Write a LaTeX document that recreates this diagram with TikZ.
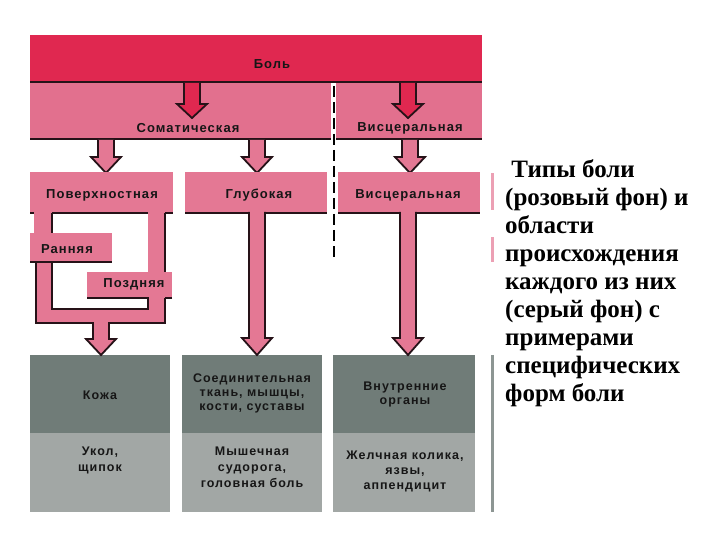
\documentclass[tikz,border=0pt]{standalone}
\usepackage{fontspec}
\setmainfont{Liberation Serif}
\newfontfamily\lblfont[LetterSpace=8]{Liberation Sans}
\definecolor{redband}{RGB}{224,40,80}
\definecolor{pinkband}{RGB}{226,112,142}
\definecolor{pinkbox}{RGB}{228,120,148}
\definecolor{darkline}{RGB}{38,18,24}
\definecolor{graytop}{RGB}{112,124,120}
\definecolor{graybot}{RGB}{162,167,165}
\definecolor{txtdark}{RGB}{22,22,22}
\newcommand\blkarrow[5]{%
  \fill[#1] (#2-8,#3) -- (#2-8,#4) -- (#2-15,#4) -- (#2,#5) -- (#2+15,#4) -- (#2+8,#4) -- (#2+8,#3) -- cycle;
  \draw[darkline, line width=1.8pt, line join=miter] (#2-8,#3) -- (#2-8,#4) -- (#2-15,#4) -- (#2,#5) -- (#2+15,#4) -- (#2+8,#4) -- (#2+8,#3);
}
\begin{document}
\begin{tikzpicture}[x=1pt,y=-1pt,
  lbl/.style={font=\lblfont\bfseries\fontsize{13}{15}\selectfont, text=txtdark, inner sep=0pt},
  glbl/.style={font=\lblfont\bfseries\fontsize{12.5}{14}\selectfont, text=txtdark, align=center, inner sep=0pt},
  dk/.style={draw=darkline, line width=2pt},
]
\useasboundingbox[fill=white] (0,0) rectangle (720,540);

% ---- top bands
\fill[pinkband] (30,82) rectangle (482,140);
\fill[redband] (30,35) rectangle (482,82);
\draw[dk] (30,82) -- (482,82);
\draw[dk] (30,139) -- (482,139);
\blkarrow{redband}{192}{83}{104}{118}
\blkarrow{redband}{408}{83}{104}{118}
\fill[white] (331,83) rectangle (336,141);

\node[lbl] (bol) at (272,64) {Боль};
\node[lbl] (som) at (188,128) {Соматическая};
\node[lbl] (vis1) at (410,128) {Висцеральная};

% ---- second row arrows
\blkarrow{pinkbox}{106}{140}{157}{173}
\blkarrow{pinkbox}{257}{140}{157}{173}
\blkarrow{pinkbox}{410}{140}{157}{173}

% ---- grey boxes
\fill[graytop] (30,355) rectangle (170,433);
\fill[graybot] (30,433) rectangle (170,512);
\fill[graytop] (182,355) rectangle (322,433);
\fill[graybot] (182,433) rectangle (322,512);
\fill[graytop] (333,355) rectangle (475,433);
\fill[graybot] (333,433) rectangle (475,512);
\fill[graytop!80!white] (491,355) rectangle (494,512);
\fill[pinkbox!70!white] (491,173) rectangle (494,210);
\fill[pinkbox!70!white] (491,237) rectangle (494,262);

% ---- second row boxes
\fill[pinkbox] (30,172) rectangle (173,213);
\fill[pinkbox] (185,172) rectangle (327,213);
\fill[pinkbox] (338,172) rectangle (480,213);
\draw[dk] (185,213) -- (327,213);
\draw[dk] (338,213) -- (480,213);

% ---- superficial pain branch
\fill[pinkbox] (34,212) rectangle (52,234);
\fill[pinkbox] (30,233) rectangle (112,262);
\fill[pinkbox] (36,261) rectangle (52,323);
\fill[pinkbox] (36,309) rectangle (165,323);
\fill[pinkbox] (148,212) rectangle (165,310);
\fill[pinkbox] (87,272) rectangle (172,298);
\draw[dk] (30,213) -- (34,213);
\draw[dk] (52,213) -- (148,213);
\draw[dk] (165,213) -- (173,213);
\draw[dk] (52,213) -- (52,233);
\draw[dk] (30,262) -- (112,262);
\draw[dk] (36,262) -- (36,323) -- (93,323);
\draw[dk] (110,323) -- (165,323) -- (165,298);
\draw[dk] (172,298) -- (165,298);
\draw[dk] (52,262) -- (52,309) -- (148,309) -- (148,298) -- (87,298);
\draw[dk] (165,213) -- (165,272);

\blkarrow{pinkbox}{101}{322}{339}{355}
\blkarrow{pinkbox}{257}{212}{338}{355}
\blkarrow{pinkbox}{408}{212}{338}{355}

\draw[black, line width=2pt, dash pattern=on 11pt off 5pt] (333.5,86) -- (333.5,260);

\node[lbl] (pov) at (102,195) {Поверхностная};
\node[lbl] (glu) at (259,195) {Глубокая};
\node[lbl] (vis2) at (408,195) {Висцеральная};
\node[lbl] (ran) at (67,249) {Ранняя};
\node[lbl] (poz) at (134,284) {Поздняя};

\node[glbl] (koz) at (100,395) {Кожа};
\node[glbl] (tis) at (252,393) {Соединительная\\ткань, мышцы,\\кости, суставы};
\node[glbl] (org) at (405,394) {Внутренние\\органы};
\node[glbl, font=\lblfont\bfseries\fontsize{12.5}{16}\selectfont] (ukol) at (100,460) {Укол,\\щипок};
\node[glbl, font=\lblfont\bfseries\fontsize{12.5}{16}\selectfont] (myas) at (252,467) {Мышечная\\судорога,\\головная боль};
\node[glbl, font=\lblfont\bfseries\fontsize{12.5}{15}\selectfont] (zhel) at (405,471) {Желчная колика,\\язвы,\\аппендицит};

\node[anchor=north west, align=left, inner sep=0pt,
      font=\fontsize{25}{28}\selectfont\bfseries] (cap) at (505,159)
  {\ Типы боли\\(розовый фон) и\\области\\происхождения\\каждого из них\\(серый фон) с\\примерами\\специфических\\форм боли};
\end{tikzpicture}
\end{document}
